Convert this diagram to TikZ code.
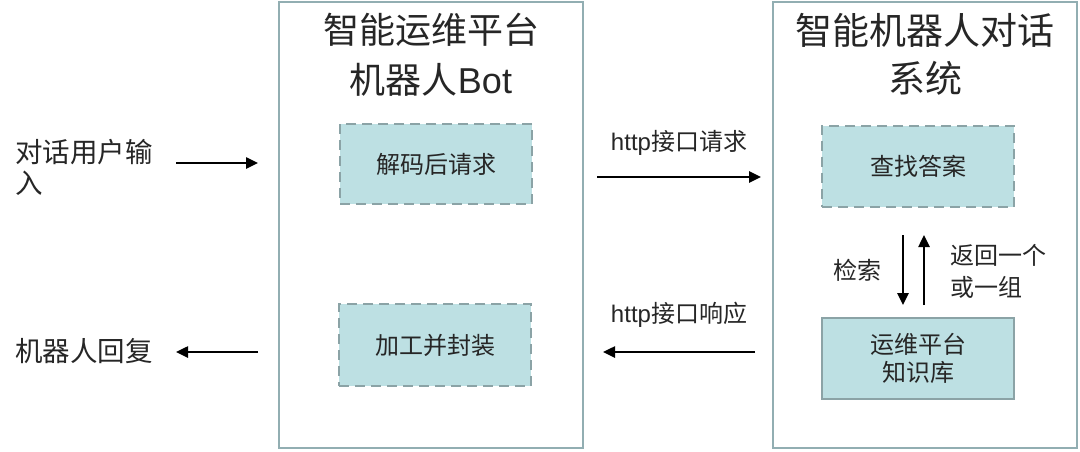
\documentclass[tikz,border=0pt]{standalone}
\usepackage{fontspec}
\setmainfont{Liberation Sans}
\newfontfamily\cjk{Noto Sans CJK SC}
\usetikzlibrary{arrows.meta}
\definecolor{boxfill}{HTML}{BDE0E3}
\definecolor{boxline}{HTML}{8BA3A6}
\definecolor{frameline}{HTML}{92AEB2}
\begin{document}
\begin{tikzpicture}[x=1pt,y=-1pt,
  frame/.style={draw=frameline,line width=2.5pt},
  dbox/.style={draw=boxline,fill=boxfill,line width=2pt,dash pattern=on 10pt off 6pt},
  sbox/.style={draw=boxline,fill=boxfill,line width=2pt},
  lbl/.style={font=\cjk\fontsize{24}{29}\selectfont,text=black!85,align=center,inner sep=0pt},
  side/.style={font=\cjk\fontsize{27.5}{31}\selectfont,text=black!85,align=left,inner sep=0pt},
  ttl/.style={font=\cjk\fontsize{36}{50}\selectfont,text=black!85,align=center,inner sep=0pt},
  arr/.style={-{Triangle[length=12pt,width=11pt]},line width=2.5pt}
]
\useasboundingbox (0,0) rectangle (1080,451);
\fill[white] (0,0) rectangle (1080,451);
% frames
\draw[frame] (279,2) rectangle (583,448);
\draw[frame] (773,2) rectangle (1077,448);
\node[ttl] (t1) at (431,55) {智能运维平台\\机器人{\fontspec{Liberation Sans}Bot}};
\node[ttl,font=\cjk\fontsize{37}{48}\selectfont] (t2) at (925,54) {智能机器人对话\\系统};
% inner boxes
\node[dbox,minimum width=192pt,minimum height=80pt,lbl] (dec) at (436,164) {解码后请求};
\node[dbox,minimum width=192pt,minimum height=82pt,lbl] (proc) at (435,345) {加工并封装};
\node[dbox,minimum width=192pt,minimum height=81pt,lbl] (find) at (918,166) {查找答案};
\node[sbox,minimum width=192pt,minimum height=81pt,lbl,font=\cjk\fontsize{24}{28}\selectfont] (kb) at (918,358) {运维平台\\知识库};
% left texts
\node[side,anchor=west] (uin) at (15,167) {对话用户输\\入};
\node[side,anchor=west] (rep) at (15,351) {机器人回复};
\coordinate (a1s) at (176,163);
\coordinate (a1e) at (258,163);
\draw[arr] (a1s) -- (a1e);
\coordinate (a2s) at (258,352);
\coordinate (a2e) at (176,352);
\draw[arr] (a2s) -- (a2e);
% http arrows
\coordinate (h1s) at (597,177);
\coordinate (h1e) at (761,177);
\draw[arr] (h1s) -- (h1e) node[lbl,midway,above=20pt] (hl1) {{\fontspec{Liberation Sans}http}接口请求};
\coordinate (h2s) at (755,352);
\coordinate (h2e) at (603,352);
\draw[arr] (h2s) -- (h2e) node[lbl,midway,above=23pt] (hl2) {{\fontspec{Liberation Sans}http}接口响应};
% vertical arrows
\coordinate (v1s) at (903,235);
\coordinate (v1e) at (903,305);
\draw[arr] (v1s) -- (v1e);
\coordinate (v2s) at (924,305);
\coordinate (v2e) at (924,235);
\draw[arr] (v2s) -- (v2e);
\node[lbl] (ss) at (857,270) {检索};
\node[lbl,anchor=west,align=left,font=\cjk\fontsize{24}{32}\selectfont] (ret) at (950,271) {返回一个\\或一组};
\end{tikzpicture}
\end{document}
